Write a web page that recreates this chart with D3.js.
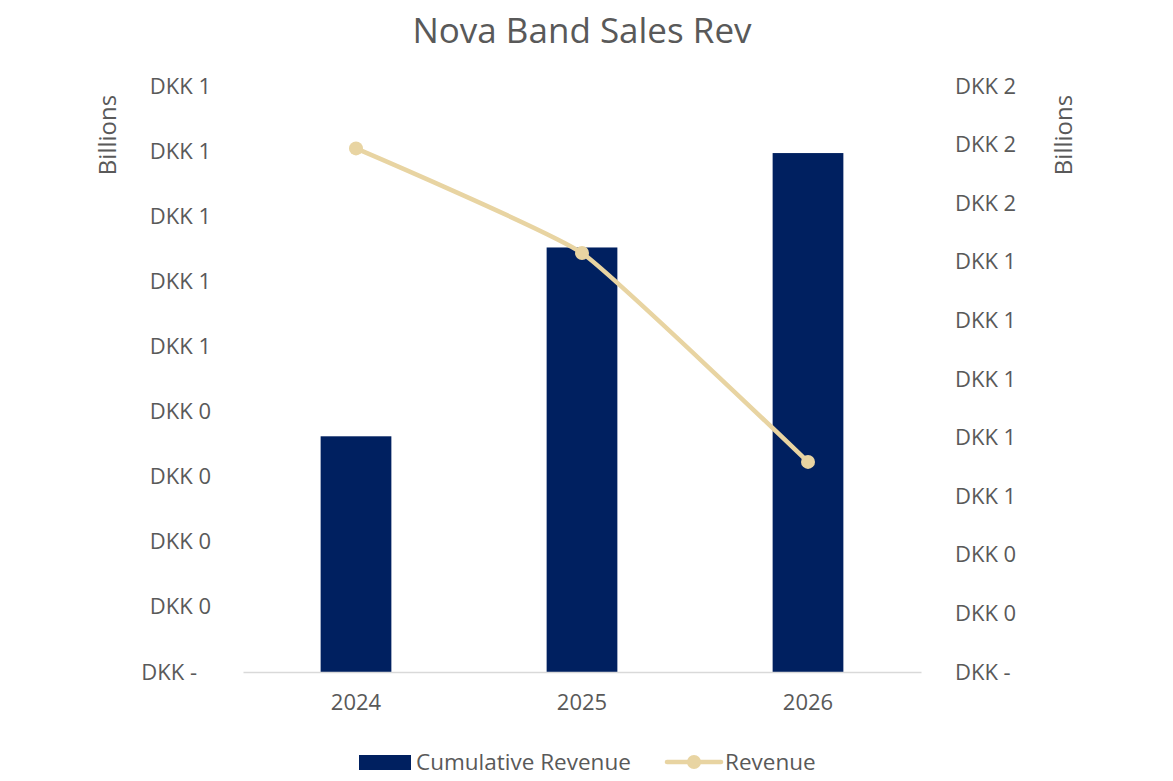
<!DOCTYPE html>
<html>
<head>
<meta charset="utf-8">
<script src="https://cdn.jsdelivr.net/npm/d3@7"></script>
<style>
  html, body { margin: 0; padding: 0; background: #ffffff; }
  svg { display: block; }
  text { font-family: "Open Sans", "Noto Sans", sans-serif; fill: #595959; }
</style>
</head>
<body>
<svg id="chart" width="1173" height="781"></svg>
<script>
// Chart data (values in billions of DKK)
const years = ["2024", "2025", "2026"];
const cumulativeRevenue = [0.362, 0.652, 0.797];
const revenue = [1.787, 1.430, 0.717];
const leftTicks = [0, 0.1, 0.2, 0.3, 0.4, 0.5, 0.6, 0.7, 0.8, 0.9];
const rightTicks = [0, 0.2, 0.4, 0.6, 0.8, 1.0, 1.2, 1.4, 1.6, 1.8, 2.0];
const seriesNames = ["Cumulative Revenue", "Revenue"];

const barColor = "#002060";
const lineColor = "#E8D4A2";

const svg = d3.select("#chart");
const plot = { left: 243, right: 921, top: 86, bottom: 672 };

const x = d3.scaleBand().domain(years).range([plot.left, plot.right]).padding(0);
const yLeft = d3.scaleLinear().domain([0, 0.9]).range([plot.bottom, plot.top]);
const yRight = d3.scaleLinear().domain([0, 2.0]).range([plot.bottom, plot.top]);

// Accounting-style label: whole billions, dash for zero
const fmt = v => v === 0 ? "DKK -" : "DKK " + Math.round(v + 1e-9);

// Title
svg.append("text")
  .attr("x", 582).attr("y", 43)
  .attr("text-anchor", "middle")
  .style("font-size", "35px")
  .text("Nova Band Sales Rev");

// Left axis
const leftAxis = d3.axisLeft(yLeft).tickValues(leftTicks).tickFormat(fmt).tickSize(0).tickPadding(0);
const gL = svg.append("g").attr("transform", "translate(211,0)").call(leftAxis);
gL.select(".domain").remove();
gL.selectAll("text")
  .style("font-size", "22px")
  .style("font-family", "'Open Sans', 'Noto Sans', sans-serif")
  .attr("fill", "#595959")
  .attr("dx", d => d === 0 ? -14 : 0);

// Right axis
const rightAxis = d3.axisRight(yRight).tickValues(rightTicks).tickFormat(fmt).tickSize(0).tickPadding(0);
const gR = svg.append("g").attr("transform", "translate(955,0)").call(rightAxis);
gR.select(".domain").remove();
gR.selectAll("text")
  .style("font-size", "22px")
  .style("font-family", "'Open Sans', 'Noto Sans', sans-serif")
  .attr("fill", "#595959");

// Axis unit labels
svg.append("text")
  .attr("transform", "translate(116,135) rotate(-90)")
  .attr("text-anchor", "middle")
  .style("font-size", "24px")
  .text("Billions");
svg.append("text")
  .attr("transform", "translate(1072,135) rotate(-90)")
  .attr("text-anchor", "middle")
  .style("font-size", "24px")
  .text("Billions");

// Bars
const barW = x.bandwidth() * 0.313;
svg.append("g").selectAll("rect")
  .data(years)
  .join("rect")
  .attr("x", (d) => x(d) + x.bandwidth() / 2 - barW / 2)
  .attr("width", barW)
  .attr("y", (d, i) => yLeft(cumulativeRevenue[i]))
  .attr("height", (d, i) => plot.bottom - yLeft(cumulativeRevenue[i]))
  .attr("fill", barColor);

// Category axis
const bottomAxis = d3.axisBottom(x).tickSize(0).tickPadding(22);
const gB = svg.append("g").attr("transform", `translate(0,${plot.bottom})`).call(bottomAxis);
gB.select(".domain").attr("stroke", "#D9D9D9").attr("stroke-width", 1.5);
gB.selectAll("text")
  .style("font-size", "22px")
  .style("font-family", "'Open Sans', 'Noto Sans', sans-serif")
  .attr("fill", "#595959");

// Revenue line (lightly smoothed) on the secondary axis
const pts = years.map((d, i) => [x(d) + x.bandwidth() / 2, yRight(revenue[i])]);
svg.append("path")
  .datum(pts)
  .attr("d", d3.line().curve(d3.curveCardinal.tension(0.6)))
  .attr("fill", "none")
  .attr("stroke", lineColor)
  .attr("stroke-width", 4.5)
  .attr("stroke-linecap", "round");
svg.append("g").selectAll("circle")
  .data(pts)
  .join("circle")
  .attr("cx", d => d[0]).attr("cy", d => d[1])
  .attr("r", 7)
  .attr("fill", lineColor);

// Legend
const lg = svg.append("g");
lg.append("rect").attr("x", 359).attr("y", 755).attr("width", 52).attr("height", 15).attr("fill", barColor);
lg.append("text").attr("x", 416).attr("y", 770).style("font-size", "22.5px").text(seriesNames[0]);
lg.append("line").attr("x1", 667).attr("x2", 721).attr("y1", 762).attr("y2", 762)
  .attr("stroke", lineColor).attr("stroke-width", 4.5).attr("stroke-linecap", "round");
lg.append("circle").attr("cx", 694).attr("cy", 762).attr("r", 7).attr("fill", lineColor);
lg.append("text").attr("x", 725).attr("y", 770).style("font-size", "22.5px").text(seriesNames[1]);
</script>
</body>
</html>
